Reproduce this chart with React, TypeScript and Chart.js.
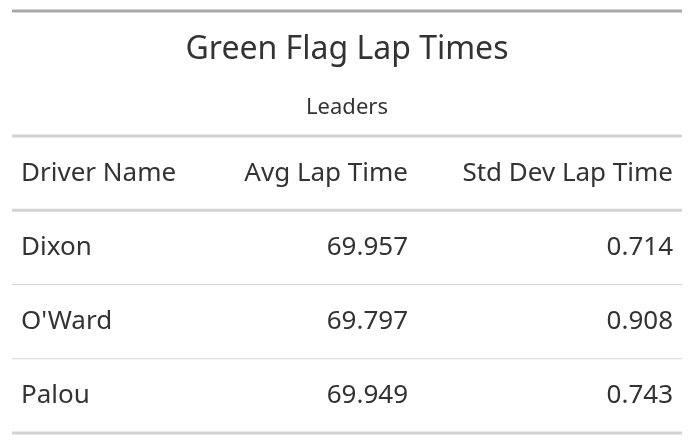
import { useEffect, useRef } from 'react'
import { Chart, registerables } from 'chart.js'

Chart.register(...registerables)

const title = 'Green Flag Lap Times'
const subtitle = 'Leaders'
const columns = ['Driver Name', 'Avg Lap Time', 'Std Dev Lap Time']
const drivers = ['Dixon', "O'Ward", 'Palou']
const avgLap = [69.957, 69.797, 69.949]
const stdLap = [0.714, 0.908, 0.743]

const FONT = '"Noto Sans", "Open Sans", sans-serif'
const INK = '#333333'
// column anchors on the x scale (page px): left edge of col 1, right edges of cols 2 and 3
const COL_ANCHOR = [21, 408, 673]

const tablePlugin = {
  id: 'gtTable',
  afterDraw(chart: Chart) {
    const { ctx, chartArea } = chart
    const x = chart.scales.x
    const y = chart.scales.y
    const left = chartArea.left
    const right = chartArea.right
    const line = (py: number, w: number, c: string) => {
      ctx.save()
      ctx.strokeStyle = c
      ctx.lineWidth = w
      ctx.beginPath()
      ctx.moveTo(left, py)
      ctx.lineTo(right, py)
      ctx.stroke()
      ctx.restore()
    }
    ctx.save()
    ctx.fillStyle = INK
    ctx.textBaseline = 'middle'
    ctx.textAlign = 'center'
    ctx.font = `32px ${FONT}`
    ctx.fillText(title, (left + right) / 2, 50)
    ctx.font = `22px ${FONT}`
    ctx.fillText(subtitle, (left + right) / 2, 108)

    const rows = [columns, ...drivers.map((d, i) => [d, avgLap[i].toFixed(3), stdLap[i].toFixed(3)])]
    const colX = COL_ANCHOR.map((a) => x.getPixelForValue(a))
    ctx.font = `26px ${FONT}`
    rows.forEach((r, ri) => {
      const py = y.getPixelForValue(ri)
      r.forEach((txt, ci) => {
        ctx.textAlign = ci === 0 ? 'left' : 'right'
        ctx.fillText(txt, colX[ci], py)
      })
    })
    ctx.restore()

    const band = y.getPixelForValue(1) - y.getPixelForValue(0)
    line(11, 3, '#a8a8a8')
    line(chartArea.top, 3, '#d3d3d3')
    line(y.getPixelForValue(0) + band / 2, 3, '#d3d3d3')
    for (let i = 1; i < drivers.length; i++) line(y.getPixelForValue(i) + band / 2, 1, '#d3d3d3')
    line(chartArea.bottom, 3, '#d3d3d3')
  },
}

export default function App() {
  const ref = useRef<HTMLCanvasElement>(null)
  useEffect(() => {
    document.body.style.margin = '0'
    if (!ref.current) return
    const chart = new Chart(ref.current, {
      type: 'scatter',
      data: { datasets: [{ data: [] }] },
      options: {
        animation: false,
        responsive: false,
        layout: { padding: { left: 12, right: 10, top: 136, bottom: 11 } },
        plugins: { legend: { display: false }, tooltip: { enabled: false } },
        scales: {
          x: { type: 'linear', min: 12, max: 682, display: false },
          y: { type: 'category', labels: ['header', ...drivers], offset: true, display: false },
        },
      },
      plugins: [tablePlugin],
    })
    return () => chart.destroy()
  }, [])
  return <canvas ref={ref} width={692} height={444} style={{ display: 'block' }} />
}
